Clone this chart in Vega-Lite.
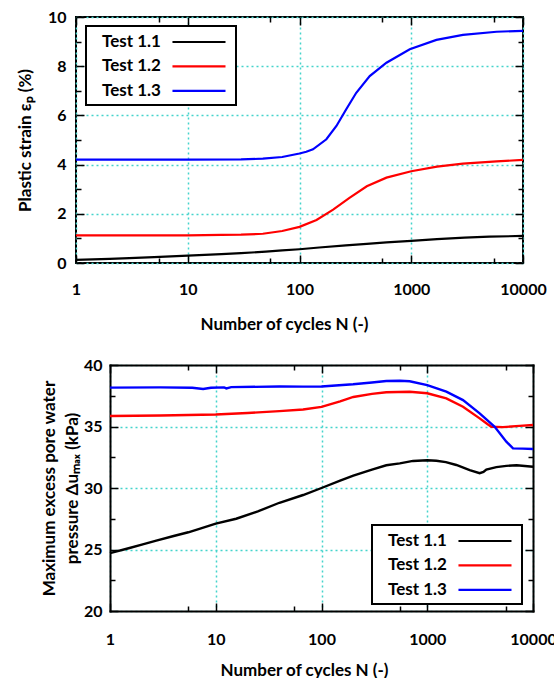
{
  "$schema": "https://vega.github.io/schema/vega-lite/v6.json",
  "padding": {"left": 15, "top": 8, "right": 0, "bottom": 0},
  "spacing": 24,
  "resolve": {"scale": {"color": "independent"}, "legend": {"color": "independent"}},
  "config": {
    "font": "Lato",
    "view": {"stroke": "black", "strokeWidth": 2},
    "axis": {
      "domain": false, "domainColor": "black", "domainWidth": 2, "domainCap": "square",
      "labelFlush": false,
      "labelFont": "Lato", "labelFontWeight": "bold", "labelFontSize": 16, "labelColor": "black",
      "titleFont": "Lato", "titleFontWeight": "bold", "titleFontSize": 17, "titleColor": "black",
      "tickColor": "black", "tickWidth": 1.5,
      "gridColor": "#44d4cc", "gridDash": [2, 3], "gridWidth": 1.5, "gridOpacity": 1
    },
    "legend": {
      "title": null,
      "symbolType": "M8.29,0H14.53", "symbolSize": 289, "symbolStrokeWidth": 2.2,
      "labelFont": "Lato", "labelFontSize": 17, "labelFontWeight": "bold", "labelColor": "black",
      "labelAlign": "left", "labelOffset": -10,
      "fillColor": "white", "strokeColor": "black", "strokeWidth": 2,
      "padding": 6, "rowPadding": 6.4
    }
  },
  "datasets": {
    "strain": [
      {"N": 1, "value": 0.13, "test": "Test 1.1"},
      {"N": 2, "value": 0.17, "test": "Test 1.1"},
      {"N": 3, "value": 0.2, "test": "Test 1.1"},
      {"N": 5, "value": 0.24, "test": "Test 1.1"},
      {"N": 10, "value": 0.3, "test": "Test 1.1"},
      {"N": 20, "value": 0.36, "test": "Test 1.1"},
      {"N": 30, "value": 0.4, "test": "Test 1.1"},
      {"N": 50, "value": 0.46, "test": "Test 1.1"},
      {"N": 70, "value": 0.51, "test": "Test 1.1"},
      {"N": 100, "value": 0.56, "test": "Test 1.1"},
      {"N": 150, "value": 0.63, "test": "Test 1.1"},
      {"N": 260, "value": 0.72, "test": "Test 1.1"},
      {"N": 400, "value": 0.78, "test": "Test 1.1"},
      {"N": 600, "value": 0.84, "test": "Test 1.1"},
      {"N": 1000, "value": 0.9, "test": "Test 1.1"},
      {"N": 1700, "value": 0.97, "test": "Test 1.1"},
      {"N": 3000, "value": 1.03, "test": "Test 1.1"},
      {"N": 5000, "value": 1.07, "test": "Test 1.1"},
      {"N": 10000, "value": 1.1, "test": "Test 1.1"},
      {"N": 1, "value": 1.12, "test": "Test 1.2"},
      {"N": 3, "value": 1.12, "test": "Test 1.2"},
      {"N": 10, "value": 1.12, "test": "Test 1.2"},
      {"N": 20, "value": 1.14, "test": "Test 1.2"},
      {"N": 30, "value": 1.15, "test": "Test 1.2"},
      {"N": 47, "value": 1.19, "test": "Test 1.2"},
      {"N": 70, "value": 1.3, "test": "Test 1.2"},
      {"N": 100, "value": 1.47, "test": "Test 1.2"},
      {"N": 142, "value": 1.75, "test": "Test 1.2"},
      {"N": 200, "value": 2.17, "test": "Test 1.2"},
      {"N": 280, "value": 2.65, "test": "Test 1.2"},
      {"N": 400, "value": 3.12, "test": "Test 1.2"},
      {"N": 600, "value": 3.47, "test": "Test 1.2"},
      {"N": 1000, "value": 3.73, "test": "Test 1.2"},
      {"N": 1700, "value": 3.92, "test": "Test 1.2"},
      {"N": 2900, "value": 4.04, "test": "Test 1.2"},
      {"N": 5800, "value": 4.13, "test": "Test 1.2"},
      {"N": 10000, "value": 4.19, "test": "Test 1.2"},
      {"N": 1, "value": 4.2, "test": "Test 1.3"},
      {"N": 10, "value": 4.2, "test": "Test 1.3"},
      {"N": 30, "value": 4.21, "test": "Test 1.3"},
      {"N": 47, "value": 4.24, "test": "Test 1.3"},
      {"N": 70, "value": 4.31, "test": "Test 1.3"},
      {"N": 100, "value": 4.45, "test": "Test 1.3"},
      {"N": 115, "value": 4.52, "test": "Test 1.3"},
      {"N": 132, "value": 4.62, "test": "Test 1.3"},
      {"N": 174, "value": 5.03, "test": "Test 1.3"},
      {"N": 214, "value": 5.57, "test": "Test 1.3"},
      {"N": 262, "value": 6.25, "test": "Test 1.3"},
      {"N": 322, "value": 6.92, "test": "Test 1.3"},
      {"N": 425, "value": 7.6, "test": "Test 1.3"},
      {"N": 600, "value": 8.14, "test": "Test 1.3"},
      {"N": 970, "value": 8.69, "test": "Test 1.3"},
      {"N": 1680, "value": 9.07, "test": "Test 1.3"},
      {"N": 2900, "value": 9.27, "test": "Test 1.3"},
      {"N": 5800, "value": 9.4, "test": "Test 1.3"},
      {"N": 10000, "value": 9.44, "test": "Test 1.3"}
    ],
    "pwp": [
      {"N": 1, "value": 24.7, "test": "Test 1.1"},
      {"N": 1.5, "value": 25.1, "test": "Test 1.1"},
      {"N": 2, "value": 25.4, "test": "Test 1.1"},
      {"N": 2.74, "value": 25.72, "test": "Test 1.1"},
      {"N": 4, "value": 26.1, "test": "Test 1.1"},
      {"N": 5.5, "value": 26.4, "test": "Test 1.1"},
      {"N": 7, "value": 26.68, "test": "Test 1.1"},
      {"N": 10, "value": 27.1, "test": "Test 1.1"},
      {"N": 15.6, "value": 27.5, "test": "Test 1.1"},
      {"N": 25, "value": 28.1, "test": "Test 1.1"},
      {"N": 40, "value": 28.8, "test": "Test 1.1"},
      {"N": 67, "value": 29.43, "test": "Test 1.1"},
      {"N": 100, "value": 30.0, "test": "Test 1.1"},
      {"N": 150, "value": 30.6, "test": "Test 1.1"},
      {"N": 200, "value": 31.0, "test": "Test 1.1"},
      {"N": 300, "value": 31.5, "test": "Test 1.1"},
      {"N": 410, "value": 31.85, "test": "Test 1.1"},
      {"N": 550, "value": 32.0, "test": "Test 1.1"},
      {"N": 733, "value": 32.2, "test": "Test 1.1"},
      {"N": 1000, "value": 32.25, "test": "Test 1.1"},
      {"N": 1220, "value": 32.22, "test": "Test 1.1"},
      {"N": 1500, "value": 32.1, "test": "Test 1.1"},
      {"N": 1884, "value": 31.87, "test": "Test 1.1"},
      {"N": 2520, "value": 31.46, "test": "Test 1.1"},
      {"N": 3130, "value": 31.2, "test": "Test 1.1"},
      {"N": 3400, "value": 31.3, "test": "Test 1.1"},
      {"N": 3620, "value": 31.5, "test": "Test 1.1"},
      {"N": 4500, "value": 31.7, "test": "Test 1.1"},
      {"N": 5600, "value": 31.8, "test": "Test 1.1"},
      {"N": 7000, "value": 31.85, "test": "Test 1.1"},
      {"N": 10000, "value": 31.73, "test": "Test 1.1"},
      {"N": 1, "value": 35.85, "test": "Test 1.2"},
      {"N": 3, "value": 35.9, "test": "Test 1.2"},
      {"N": 10, "value": 35.98, "test": "Test 1.2"},
      {"N": 20, "value": 36.1, "test": "Test 1.2"},
      {"N": 40, "value": 36.25, "test": "Test 1.2"},
      {"N": 67, "value": 36.38, "test": "Test 1.2"},
      {"N": 100, "value": 36.6, "test": "Test 1.2"},
      {"N": 150, "value": 37.05, "test": "Test 1.2"},
      {"N": 200, "value": 37.4, "test": "Test 1.2"},
      {"N": 300, "value": 37.65, "test": "Test 1.2"},
      {"N": 410, "value": 37.78, "test": "Test 1.2"},
      {"N": 682, "value": 37.83, "test": "Test 1.2"},
      {"N": 1000, "value": 37.7, "test": "Test 1.2"},
      {"N": 1515, "value": 37.29, "test": "Test 1.2"},
      {"N": 2178, "value": 36.61, "test": "Test 1.2"},
      {"N": 3130, "value": 35.66, "test": "Test 1.2"},
      {"N": 3700, "value": 35.2, "test": "Test 1.2"},
      {"N": 4036, "value": 34.98, "test": "Test 1.2"},
      {"N": 5200, "value": 34.95, "test": "Test 1.2"},
      {"N": 7480, "value": 35.05, "test": "Test 1.2"},
      {"N": 10000, "value": 35.12, "test": "Test 1.2"},
      {"N": 1, "value": 38.16, "test": "Test 1.3"},
      {"N": 3, "value": 38.18, "test": "Test 1.3"},
      {"N": 6, "value": 38.15, "test": "Test 1.3"},
      {"N": 7.6, "value": 38.05, "test": "Test 1.3"},
      {"N": 9, "value": 38.15, "test": "Test 1.3"},
      {"N": 12, "value": 38.18, "test": "Test 1.3"},
      {"N": 12.6, "value": 38.1, "test": "Test 1.3"},
      {"N": 14, "value": 38.2, "test": "Test 1.3"},
      {"N": 40, "value": 38.25, "test": "Test 1.3"},
      {"N": 67, "value": 38.24, "test": "Test 1.3"},
      {"N": 100, "value": 38.25, "test": "Test 1.3"},
      {"N": 199, "value": 38.43, "test": "Test 1.3"},
      {"N": 300, "value": 38.58, "test": "Test 1.3"},
      {"N": 410, "value": 38.7, "test": "Test 1.3"},
      {"N": 550, "value": 38.72, "test": "Test 1.3"},
      {"N": 682, "value": 38.68, "test": "Test 1.3"},
      {"N": 1000, "value": 38.37, "test": "Test 1.3"},
      {"N": 1515, "value": 37.83, "test": "Test 1.3"},
      {"N": 2178, "value": 37.15, "test": "Test 1.3"},
      {"N": 3130, "value": 36.07, "test": "Test 1.3"},
      {"N": 4345, "value": 34.98, "test": "Test 1.3"},
      {"N": 5595, "value": 33.77, "test": "Test 1.3"},
      {"N": 6470, "value": 33.22, "test": "Test 1.3"},
      {"N": 8000, "value": 33.2, "test": "Test 1.3"},
      {"N": 10000, "value": 33.17, "test": "Test 1.3"}
    ]
  },
  "vconcat": [
    {
      "width": 447,
      "height": 246,
      "data": {"name": "strain"},
      "layer": [
        {
          "mark": {"type": "line", "strokeWidth": 2.2},
          "encoding": {
            "x": {"field": "N", "type": "quantitative", "scale": {"type": "log", "domain": [1, 10000]},
                  "axis": {"orient": "bottom", "values": [1, 10, 100, 1000, 10000], "format": "d", "grid": true, "tickSize": -8, "labelPadding": 26, "title": "Number of cycles N (-)", "titlePadding": 19, "titleX": 208}},
            "y": {"field": "value", "type": "quantitative", "scale": {"domain": [0, 10], "nice": false},
                  "axis": {"orient": "left", "values": [0, 2, 4, 6, 8, 10], "grid": true, "tickSize": -8, "labelPadding": 18, "title": "Plastic strain εₚ (%)", "titlePadding": 13}},
            "color": {"field": "test", "type": "nominal",
                      "scale": {"domain": ["Test 1.1", "Test 1.2", "Test 1.3"], "range": ["#000000", "#ff0000", "#0000ff"]},
                      "legend": {"orient": "none", "legendX": 10, "legendY": 9}}
          }
        },
        {
          "mark": {"type": "line", "opacity": 0},
          "encoding": {
            "x": {"field": "N", "type": "quantitative", "scale": {"type": "log", "domain": [1, 10000]},
                  "axis": {"orient": "bottom", "values": [5.5, 55, 550, 5500], "labels": false, "grid": false, "tickSize": -5, "title": null}},
            "y": {"field": "value", "type": "quantitative", "scale": {"domain": [0, 10], "nice": false},
                  "axis": {"orient": "left", "values": [1, 3, 5, 7, 9], "labels": false, "grid": false, "tickSize": -5, "title": null}},
            "detail": {"field": "test"}
          }
        },
        {
          "mark": {"type": "line", "opacity": 0},
          "encoding": {
            "x": {"field": "N", "type": "quantitative", "scale": {"type": "log", "domain": [1, 10000]},
                  "axis": {"orient": "top", "values": [1, 10, 100, 1000, 10000], "labels": false, "grid": false, "tickSize": -8, "title": null}},
            "y": {"field": "value", "type": "quantitative", "scale": {"domain": [0, 10], "nice": false},
                  "axis": {"orient": "right", "values": [0, 2, 4, 6, 8, 10], "labels": false, "grid": false, "tickSize": -8, "title": null}},
            "detail": {"field": "test"}
          }
        },
        {
          "mark": {"type": "line", "opacity": 0},
          "encoding": {
            "x": {"field": "N", "type": "quantitative", "scale": {"type": "log", "domain": [1, 10000]},
                  "axis": {"orient": "top", "values": [5.5, 55, 550, 5500], "labels": false, "grid": false, "tickSize": -5, "title": null}},
            "y": {"field": "value", "type": "quantitative", "scale": {"domain": [0, 10], "nice": false},
                  "axis": {"orient": "right", "values": [1, 3, 5, 7, 9], "labels": false, "grid": false, "tickSize": -5, "title": null}},
            "detail": {"field": "test"}
          }
        }
      ],
      "resolve": {"axis": {"x": "independent", "y": "independent"}}
    },
    {
      "width": 457,
      "height": 246,
      "view": {"stroke": null},
      "data": {"name": "pwp"},
      "layer": [
        {
          "mark": {"type": "line", "strokeWidth": 2.4},
          "encoding": {
            "x": {"field": "N", "type": "quantitative", "scale": {"type": "log", "domain": [1, 10000], "range": [34, 457]},
                  "axis": {"orient": "bottom", "domain": true, "values": [1, 10, 100, 1000, 10000], "format": "d", "grid": true, "tickSize": -8, "labelPadding": 28, "title": "Number of cycles N (-)", "titlePadding": 15, "titleX": 228}},
            "y": {"field": "value", "type": "quantitative", "scale": {"domain": [20, 40], "nice": false, "zero": false},
                  "axis": {"orient": "left", "offset": -34, "domain": true, "values": [20, 25, 30, 35, 40], "grid": true, "tickSize": -8, "labelPadding": 16, "title": ["Maximum excess pore water", "pressure Δuₘₐₓ (kPa)"], "titlePadding": 2, "titleLineHeight": 23}},
            "color": {"field": "test", "type": "nominal",
                      "scale": {"domain": ["Test 1.1", "Test 1.2", "Test 1.3"], "range": ["#000000", "#ff0000", "#0000ff"]},
                      "legend": {"orient": "none", "legendX": 296, "legendY": 160}}
          }
        },
        {
          "mark": {"type": "line", "opacity": 0},
          "encoding": {
            "x": {"field": "N", "type": "quantitative", "scale": {"type": "log", "domain": [1, 10000], "range": [34, 457]},
                  "axis": {"orient": "bottom", "values": [5.5, 55, 550, 5500], "labels": false, "grid": false, "tickSize": -5, "title": null}},
            "y": {"field": "value", "type": "quantitative", "scale": {"domain": [20, 40], "nice": false, "zero": false},
                  "axis": {"orient": "left", "offset": -34, "values": [22.5, 27.5, 32.5, 37.5], "labels": false, "grid": false, "tickSize": -5, "title": null}},
            "detail": {"field": "test"}
          }
        },
        {
          "mark": {"type": "line", "opacity": 0},
          "encoding": {
            "x": {"field": "N", "type": "quantitative", "scale": {"type": "log", "domain": [1, 10000], "range": [34, 457]},
                  "axis": {"orient": "top", "domain": true, "values": [1, 10, 100, 1000, 10000], "labels": false, "grid": false, "tickSize": -8, "title": null}},
            "y": {"field": "value", "type": "quantitative", "scale": {"domain": [20, 40], "nice": false, "zero": false},
                  "axis": {"orient": "right", "domain": true, "values": [20, 25, 30, 35, 40], "labels": false, "grid": false, "tickSize": -8, "title": null}},
            "detail": {"field": "test"}
          }
        },
        {
          "mark": {"type": "line", "opacity": 0},
          "encoding": {
            "x": {"field": "N", "type": "quantitative", "scale": {"type": "log", "domain": [1, 10000], "range": [34, 457]},
                  "axis": {"orient": "top", "values": [5.5, 55, 550, 5500], "labels": false, "grid": false, "tickSize": -5, "title": null}},
            "y": {"field": "value", "type": "quantitative", "scale": {"domain": [20, 40], "nice": false, "zero": false},
                  "axis": {"orient": "right", "values": [22.5, 27.5, 32.5, 37.5], "labels": false, "grid": false, "tickSize": -5, "title": null}},
            "detail": {"field": "test"}
          }
        }
      ],
      "resolve": {"axis": {"x": "independent", "y": "independent"}}
    }
  ]
}
